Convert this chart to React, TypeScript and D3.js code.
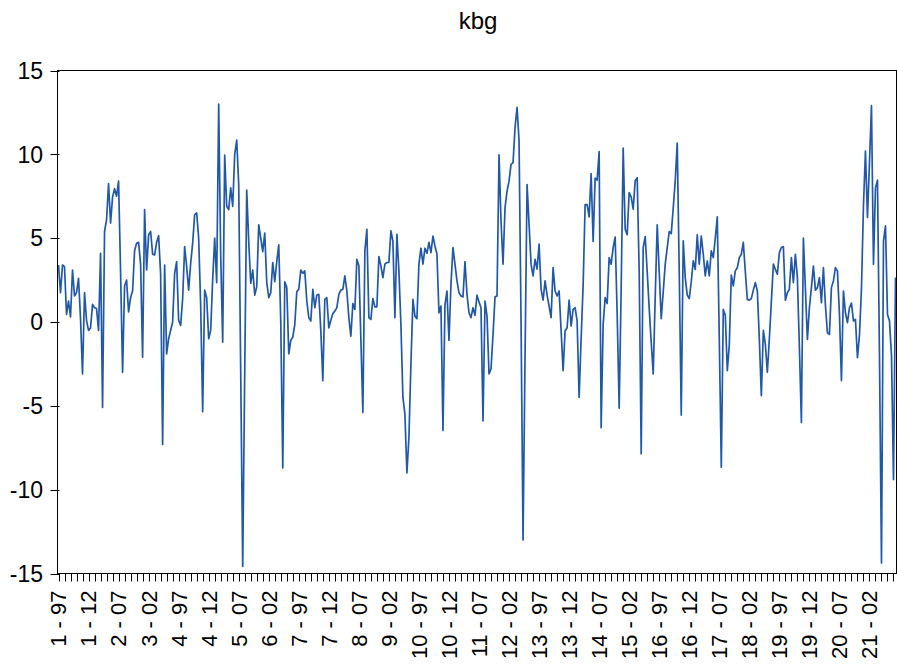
import React from "react";
import * as d3 from "d3";

const title = "kbg";

const xLabels = [
  "1 - 97", "1 - 12", "2 - 07", "3 - 02", "4 - 97", "4 - 12", "5 - 07",
  "6 - 02", "7 - 97", "7 - 12", "8 - 07", "9 - 02", "10 - 97", "10 - 12",
  "11 - 07", "12 - 02", "13 - 97", "13 - 12", "14 - 07", "15 - 02", "16 - 97",
  "16 - 12", "17 - 07", "18 - 02", "19 - 97", "19 - 12", "20 - 07", "21 - 02",
];

const yTicks = [-15, -10, -5, 0, 5, 10, 15];

const kbgValues = [
  // 0-52
  3.4, 1.75, 3.4, 3.3, 0.45, 1.25, 0.3, 3.1, 1.55, 1.75, 2.6, 0.2, -3.1, 1.75, 0.1, -0.5, -0.35, 1.05, 0.85, 0.8,
  -0.5, 4.1, -5.1, 5.4, 6.1, 8.25, 5.9, 7.45, 7.95, 7.5, 8.4, 3.0, -3.0, 2.15, 2.5, 0.6, 1.45, 1.85, 4.25, 4.7,
  4.75, 3.45, -2.1, 6.7, 3.1, 5.2, 5.4, 4.05, 4.0, 4.75, 5.15, 2.85, -7.3,
  // 53-105
  3.4, -1.9, -1.0, -0.5, 0.0, 2.9, 3.6, 0.1, -0.2, 1.4, 4.5, 3.3, 1.9, 3.5, 4.7, 6.4, 6.5, 5.0, 1.0, -5.35,
  1.9, 1.45, -1.0, -0.5, 2.55, 5.0, 2.35, 13.0, 4.0, -1.2, 9.95, 6.9, 6.7, 8.0, 6.9, 10.0, 10.85, 8.2, -3.0, -14.57,
  -3.0, 7.86, 4.8, 2.3, 3.1, 1.6, 2.1, 5.8, 5.0, 4.2, 5.3, 2.35, 1.45,
  // 106-158
  1.75, 3.55, 2.4, 3.6, 4.6, 0.0, -8.7, 2.4, 2.05, -1.9, -1.1, -0.9, -0.15, 1.8, 1.95, 3.1, 2.9, 3.05, 1.25, 0.26,
  0.06, 1.95, 0.85, 1.6, 1.65, -0.5, -3.5, 1.35, 1.45, -0.35, 0.1, 0.5, 0.65, 0.85, 1.65, 1.9, 1.95, 2.75, 1.85, 0.26,
  -0.85, 1.1, 0.75, 3.74, 3.35, -1.0, -5.4, 4.24, 5.53, 0.26, 0.15, 1.4, 0.9,
  // 159-210
  0.9, 3.9, 3.35, 2.65, 3.45, 3.55, 3.55, 5.43, 4.83, 0.26, 5.23, 3.05, -0.14, -4.5, -5.5, -9.0, -6.9, -2.5, 1.35, 0.35,
  0.2, 3.45, 4.4, 3.45, 4.4, 4.1, 4.75, 4.14, 5.13, 4.54, 4.04, 0.55, 0.95, -6.47, 1.0, 1.85, -1.1, 2.25, 4.44, 3.45,
  2.45, 1.75, 1.55, 1.5, 3.6, 1.65, 0.55, 0.26, 0.85, 0.4, 1.6, 1.2,
  // 211-262
  0.85, -5.9, 1.25, 0.35, -3.1, -2.8, -0.75, 1.5, 1.55, 9.97, 6.0, 3.45, 6.83, 7.8, 8.4, 9.4, 9.5, 11.6, 12.8, 10.8,
  0.0, -13.0, -2.0, 8.2, 5.83, 3.45, 2.75, 3.74, 3.15, 4.64, 1.95, 1.3, 2.45, 1.6, 0.95, 0.26, 3.24, 1.85, 1.55, 1.85,
  -0.5, -2.9, -0.54, -0.34, 1.3, -0.24, 0.75, 0.85, 0.06, -4.5, -1.0, 2.2,
  // 263-313
  7.0, 7.0, 6.27, 8.85, 4.8, 8.58, 8.46, 10.17, -6.3, -0.14, 1.45, 1.1, 3.84, 3.45, 4.44, 5.07, 0.5, -5.15, 2.0, 10.37,
  5.53, 5.2, 7.72, 7.46, 6.73, 8.42, 8.6, 3.0, -7.86, 4.44, 5.1, 3.0, 0.8, -1.2, -3.1, 1.5, 5.79, 3.0, 0.2, 1.8,
  3.45, 4.44, 5.39, 5.27, 6.8, 8.42, 10.67, 3.0, -5.55, 4.84, 2.65,
  // 314-365
  1.6, 1.4, 2.4, 3.64, 3.14, 5.2, 3.45, 5.13, 4.04, 2.75, 3.64, 2.75, 4.24, 3.84, 5.0, 6.27, -1.0, -8.66, 0.75, 0.4,
  -2.9, -1.37, 2.8, 2.15, 3.05, 3.24, 3.84, 4.04, 4.75, 3.0, 1.35, 1.3, 1.4, 1.9, 2.35, 1.85, -1.0, -4.4, -0.5, -1.33,
  -3.0, -1.0, 1.2, 3.45, 3.14, 2.85, 4.14, 4.44, 4.5, 1.3, 1.75, 1.95,
  // 366-418
  3.84, 2.35, 4.04, 2.65, -1.5, -6.0, 5.0, 2.0, -1.04, 0.85, 2.05, 3.34, 1.9, 2.05, 2.65, 1.15, 3.24, 1.0, -0.64, -0.74,
  2.05, 2.45, 3.24, 3.05, 0.5, -3.5, 1.85, 0.55, -0.04, 0.85, 1.13, 0.06, 0.15, -2.13, -0.8, 2.0, 6.92, 10.2, 6.23, 9.5,
  12.9, 3.45, 8.0, 8.46, -2.0, -14.37, 4.83, 5.73, 0.45, 0.06, -2.0, -9.4, 2.65,
];

const W = 897;
const H = 667;
const frame = { left: 57.5, right: 896.5, top: 70.5, bottom: 573.5 };
const FONT = "'Liberation Sans', Arial, Helvetica, sans-serif";
const LINE_COLOR = "#2158a8";

export default function App() {
  const n = kbgValues.length;
  const x = d3.scaleLinear().domain([0, n - 1]).range([58.5, 895.5]);
  const y = d3.scaleLinear().domain([-15, 15]).range([frame.bottom, frame.top]);
  const line = d3
    .line<number>()
    .x((_, i) => x(i))
    .y((d) => y(d));

  const minorTicks = d3.range(0, n, 3);
  const labelIdx = xLabels.map((_, k) => k * 15);

  return (
    <div style={{ position: "fixed", left: 0, top: 0, width: W, height: H, background: "#fff" }}>
      <svg width={W} height={H} style={{ display: "block" }} fontFamily={FONT}>
        <rect x={0} y={0} width={W} height={H} fill="#fff" />
        <text x={478} y={29} textAnchor="middle" fontSize={24} fill="#000">
          {title}
        </text>
        <path d={line(kbgValues) || ""} fill="none" stroke={LINE_COLOR} strokeWidth={1.7} strokeLinejoin="round" />
        <rect
          x={frame.left}
          y={frame.top}
          width={frame.right - frame.left}
          height={frame.bottom - frame.top}
          fill="none"
          stroke="#000"
          strokeWidth={1}
        />
        {yTicks.map((t) => (
          <g key={t}>
            <line x1={frame.left - 7} x2={frame.left + 2} y1={Math.round(y(t)) + 0.5} y2={Math.round(y(t)) + 0.5} stroke="#000" />
            <text x={43} y={y(t)} dy="0.36em" textAnchor="end" fontSize={23} fill="#000">
              {t}
            </text>
          </g>
        ))}
        {minorTicks.map((i) => (
          <line
            key={i}
            x1={Math.round(x(i)) + 0.5}
            x2={Math.round(x(i)) + 0.5}
            y1={frame.bottom}
            y2={frame.bottom + 8}
            stroke="#000"
          />
        ))}
        {labelIdx.map((i, k) => (
          <text
            key={k}
            transform={`translate(${x(i)},${frame.bottom + 17}) rotate(-90)`}
            textAnchor="end"
            dy="0.36em"
            fontSize={22}
            fill="#000"
          >
            {xLabels[k]}
          </text>
        ))}
      </svg>
    </div>
  );
}
